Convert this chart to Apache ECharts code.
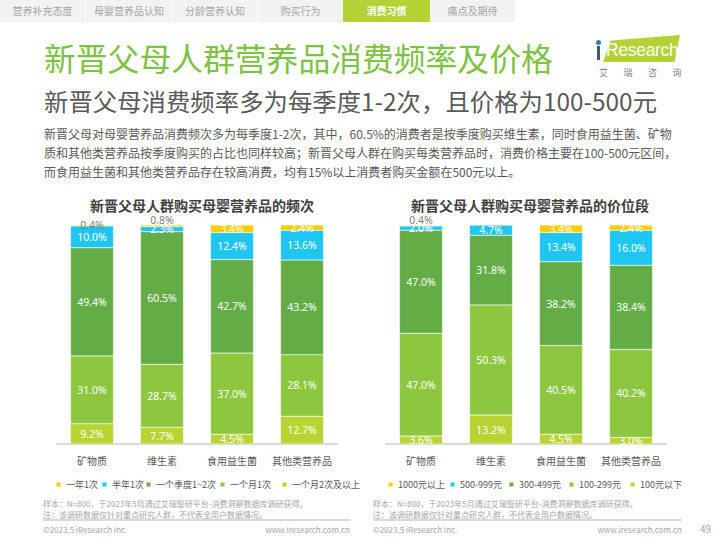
<!DOCTYPE html>
<html>
<head>
<meta charset="utf-8">
<script src="https://cdn.jsdelivr.net/npm/echarts@6/dist/echarts.min.js"></script>
<style>
  html, body { margin:0; padding:0; width:720px; height:540px; overflow:hidden; background:#fff; }
  body { position:relative; font-family: "Noto Sans CJK SC", "Noto Sans", sans-serif; }
  #chart { position:absolute; left:0; top:0; width:720px; height:540px; }
  .abs { position:absolute; white-space:nowrap; }
  #nav { position:absolute; left:0; top:0; width:515px; height:22px; background:#f2f2f2; }
  .tab { position:absolute; top:0; height:22px; line-height:22px; font-size:10px; color:#a6a6a6; text-align:center; }
  .sep { position:absolute; top:0; width:1px; height:22px; background:#fff; }
  #title { left:44px; top:36px; font-size:31.8px; line-height:42px; color:#7dc243; }
  #subtitle { left:44px; top:85px; font-size:24.4px; line-height:32px; color:#595959; }
  #para { left:44px; top:124px; font-size:12px; line-height:19px; color:#595959; }
  .foot { font-size:8px; line-height:9px; color:#a6a6a6; }
  .hr { position:absolute; height:2px; background:#d9d9d9; }
</style>
</head>
<body>
<div id="chart"></div>

<div id="nav">
  <div class="tab" style="left:0;width:85px;">营养补充态度</div>
  <div class="sep" style="left:85px;"></div>
  <div class="tab" style="left:86px;width:86px;">母婴营养品认知</div>
  <div class="sep" style="left:172px;"></div>
  <div class="tab" style="left:173px;width:84px;">分龄营养认知</div>
  <div class="sep" style="left:257px;"></div>
  <div class="tab" style="left:258px;width:85px;">购买行为</div>
  <div class="tab" style="left:343px;width:87px;background:#b2d235;color:#fff;font-weight:bold;">消费习惯</div>
  <div class="tab" style="left:430px;width:85px;">痛点及期待</div>
</div>

<div id="title" class="abs">新晋父母人群营养品消费频率及价格</div>
<div id="subtitle" class="abs">新晋父母消费频率多为每季度1-2次，且价格为100-500元</div>
<div id="para" class="abs">新晋父母对母婴营养品消费频次多为每季度1-2次，其中，60.5%的消费者是按季度购买维生素，同时食用益生菌、矿物<br>质和其他类营养品按季度购买的占比也同样较高；新晋父母人群在购买每类营养品时，消费价格主要在100-500元区间，<br>而食用益生菌和其他类营养品存在较高消费，均有15%以上消费者购买金额在500元以上。</div>

<!-- logo -->
<div class="abs" style="left:603px;top:35px;width:77px;height:27px;background:#b2d235;clip-path:polygon(10% 20%, 100% 0%, 93% 100%, 0% 100%);"></div>
<div class="abs" style="left:596px;top:40px;width:5px;height:5px;border-radius:50%;background:#2a7fd0;"></div>
<div class="abs" style="left:597px;top:46px;width:3px;height:14px;background:#3d5a78;"></div>
<div class="abs" style="left:606px;top:39px;font-family:'Liberation Sans',Arial,sans-serif;font-size:17.5px;line-height:22px;color:#fff;letter-spacing:-0.3px;">Research</div>
<div class="abs" style="left:599px;top:68px;font-size:9px;line-height:10px;color:#7f7f7f;letter-spacing:15.5px;">艾瑞咨询</div>

<!-- footers -->
<div class="abs foot" style="left:43px;top:499px;">样本：N=800，于2023年5月通过艾瑞智研平台-消费洞察数据库调研获得。</div>
<div class="abs foot" style="left:43px;top:509.5px;">注：该调研数据仅针对重点研究人群，不代表全用户数据情况。</div>
<div class="hr" style="left:43px;top:519px;width:307px;"></div>
<div class="abs foot" style="left:43px;top:524.5px;">©2023.5 iResearch Inc.</div>
<div class="abs foot" style="left:250px;top:524.5px;width:100px;text-align:right;">www.iresearch.com.cn</div>

<div class="abs foot" style="left:373px;top:499px;">样本：N=800，于2023年5月通过艾瑞智研平台-消费洞察数据库调研获得。</div>
<div class="abs foot" style="left:373px;top:509.5px;">注：该调研数据仅针对重点研究人群，不代表全用户数据情况。</div>
<div class="hr" style="left:373px;top:519px;width:309px;"></div>
<div class="abs foot" style="left:373px;top:524.5px;">©2023.5 iResearch Inc.</div>
<div class="abs foot" style="left:582px;top:524.5px;width:100px;text-align:right;">www.iresearch.com.cn</div>
<div class="abs" style="left:700px;top:523px;font-size:10px;line-height:12px;color:#a6a6a6;">49</div>

<script>
// ---------- data ----------
const categories = ['矿物质', '维生素', '食用益生菌', '其他类营养品'];

// frequency chart (bottom -> top)
const freqNames = ['一个月2次及以上', '一个月1次', '一个季度1~2次', '半年1次', '一年1次'];
const freqTwicePerMonth = [9.2, 7.7, 4.5, 12.7];
const freqOncePerMonth  = [31.0, 28.7, 37.0, 28.1];
const freqQuarterly     = [49.4, 60.5, 42.7, 43.2];
const freqHalfYear      = [10.0, 2.3, 12.4, 13.6];
const freqYearly        = [0.4, 0.8, 3.4, 2.4];

// price chart (bottom -> top)
const priceNames = ['100元以下', '100-299元', '300-499元', '500-999元', '1000元以上'];
const priceUnder100  = [3.6, 13.2, 4.5, 3.0];
const price100to299  = [47.0, 50.3, 40.5, 40.2];
const price300to499  = [47.0, 31.8, 38.2, 38.4];
const price500to999  = [2.0, 4.7, 13.4, 16.0];
const priceOver1000  = [0.4, 0, 3.4, 2.4];

const freqLegendOrder  = ['一年1次', '半年1次', '一个季度1~2次', '一个月1次', '一个月2次及以上'];
const priceLegendOrder = ['1000元以上', '500-999元', '300-499元', '100-299元', '100元以下'];

// ---------- styles ----------
const colors = ['#b7d433', '#8dc63f', '#63ac46', '#1fc6f1', '#ffcc00'];
// legend marker x positions (layout)
const freqLegendX  = [55, 101, 145, 219, 281];
const priceLegendX = [387, 449, 508, 568, 629];
// gray labels for tiny top segments: [chart, seriesIndex, dataIndex, offsetY]
const grayLabels = [
  ['freq', 4, 0, 0],
  ['freq', 4, 1, -6],
  ['price', 4, 0, -5]
];

function buildSeries(chart, names, arrays, axisIndex) {
  return arrays.map((arr, si) => ({
    name: names[si],
    type: 'bar',
    stack: chart,
    xAxisIndex: axisIndex,
    yAxisIndex: axisIndex,
    barWidth: 43,
    itemStyle: { color: colors[si], borderColor: 'rgba(255,255,255,0.55)', borderWidth: 0.5 },
    label: {
      show: true, position: 'inside', color: '#fff', fontSize: 10.5,
      fontFamily: 'Noto Sans, sans-serif',
      formatter: p => (p.value > 0 ? p.value.toFixed(1) + '%' : '')
    },
    data: arr.map((v, di) => {
      const g = grayLabels.find(x => x[0] === chart && x[1] === si && x[2] === di);
      if (g) return { value: v, label: { color: '#7f7f7f', offset: [0, g[3]] } };
      return v;
    })
  }));
}

const series = [
  ...buildSeries('freq', freqNames,
    [freqTwicePerMonth, freqOncePerMonth, freqQuarterly, freqHalfYear, freqYearly], 0),
  ...buildSeries('price', priceNames,
    [priceUnder100, price100to299, price300to499, price500to999, priceOver1000], 1)
];

const axisCommon = {
  type: 'category',
  data: categories,
  axisTick: { show: false },
  axisLine: { lineStyle: { color: '#d9d9d9', width: 2 } },
  axisLabel: { color: '#595959', fontSize: 10, margin: 11, interval: 0, fontFamily: 'Noto Sans CJK SC' }
};

const legendCommon = {
  top: 480, icon: 'rect', itemWidth: 5, itemHeight: 5, padding: 0,
  textStyle: { color: '#595959', fontSize: 9, fontFamily: 'Noto Sans CJK SC' },
  selectedMode: false
};
const legends = [];
freqLegendOrder.forEach((n, i) => legends.push(Object.assign({}, legendCommon, { left: freqLegendX[i], data: [n] })));
priceLegendOrder.forEach((n, i) => legends.push(Object.assign({}, legendCommon, { left: priceLegendX[i], data: [n] })));

const chart = echarts.init(document.getElementById('chart'), null, { renderer: 'svg' });
chart.setOption({
  animation: false,
  title: [
    { text: '新晋父母人群购买母婴营养品的频次', left: 197, top: 193, textAlign: 'center',
      textStyle: { fontSize: 14, fontWeight: 'bold', color: '#404040', fontFamily: 'Noto Sans CJK SC' } },
    { text: '新晋父母人群购买母婴营养品的价位段', left: 525, top: 193, textAlign: 'center',
      textStyle: { fontSize: 14, fontWeight: 'bold', color: '#404040', fontFamily: 'Noto Sans CJK SC' } }
  ],
  legend: legends,
  grid: [
    { left: 57, top: 225, width: 280, height: 219 },
    { left: 386, top: 225, width: 280, height: 219 }
  ],
  xAxis: [
    Object.assign({ gridIndex: 0 }, axisCommon),
    Object.assign({ gridIndex: 1 }, axisCommon)
  ],
  yAxis: [
    { gridIndex: 0, type: 'value', min: 0, max: 100, show: false },
    { gridIndex: 1, type: 'value', min: 0, max: 100, show: false }
  ],
  series: series
});
</script>
</body>
</html>
